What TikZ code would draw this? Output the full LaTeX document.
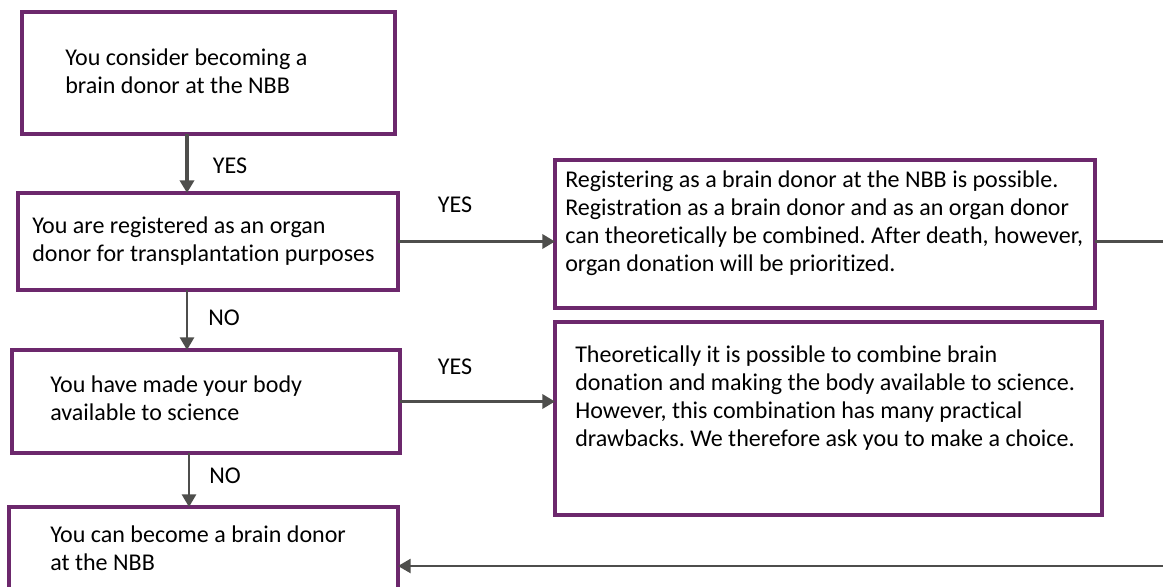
\documentclass[tikz,border=0pt]{standalone}
\usepackage{fontspec}
\setmainfont{Carlito}[Ligatures=NoCommon]
\usetikzlibrary{calc}
\usetikzlibrary{arrows.meta}

\definecolor{boxpurple}{RGB}{108,40,108}
\definecolor{arrowgray}{RGB}{78,78,76}

\begin{document}
\frenchspacing
\begin{tikzpicture}[x=0.025cm,y=-0.025cm,
  box/.style={draw=boxpurple,line width=2.6pt,inner sep=0pt,outer sep=0pt},
  txt/.style={font=\fontsize{17.1}{19.9}\selectfont,align=left,anchor=north west,inner sep=0pt},
  lbl/.style={font=\fontsize{17.1}{19.9}\selectfont,inner sep=0pt},
  arr/.style={draw=arrowgray,line width=1.9pt,-{Triangle[length=9pt,width=10pt]}}]

\clip (0,0) rectangle (1163,586);

\node[box,minimum width=373*0.025cm,minimum height=122*0.025cm] (consider) at (208.5,73) {};
\node[box,minimum width=380*0.025cm,minimum height=97*0.025cm] (organ) at (208,241.5) {};
\node[box,minimum width=540*0.025cm,minimum height=148*0.025cm] (combined) at (825,234) {};
\node[box,minimum width=388*0.025cm,minimum height=103*0.025cm] (body) at (206,401.5) {};
\node[box,minimum width=547*0.025cm,minimum height=193*0.025cm] (choice) at (828.5,418.5) {};
\node[box,minimum width=389*0.025cm,minimum height=113*0.025cm] (donor) at (203.5,563.5) {};

\node[txt] (consider text) at (65,45.4) {\strut You consider becoming a\\brain donor at the NBB};
\node[txt] (organ text) at (32,213.4) {\strut You are registered as an organ\\donor for transplantation purposes};
\node[txt] (combined text) at (565,167.4) {\strut Registering as a brain donor at the NBB is possible.\\Registration as a brain donor and as an organ donor\\can theoretically be combined. After death, however,\\organ donation will be prioritized.};
\node[txt] (body text) at (50,372.4) {\strut You have made your body\\available to science};
\node[txt] (choice text) at (575,342.4) {\strut Theoretically it is possible to combine brain\\donation and making the body available to science.\\However, this combination has many practical\\drawbacks. We therefore ask you to make a choice.};
\node[txt] (donor text) at (50,522.4) {\strut You can become a brain donor\\at the NBB};

\node[lbl] (yes1) at (230,166) {YES};
\node[lbl] (no1) at (224,318) {NO};
\node[lbl] (yes2) at (455,205) {YES};
\node[lbl] (yes3) at (455,367) {YES};
\node[lbl] (no2) at (225,476) {NO};

\coordinate (spine) at (187,0);
\coordinate (spine2) at (189,0);
\coordinate (rt) at (1190,241.5);
\coordinate (rb) at (1190,566);

\draw[arr,line width=2.8pt] (consider.south -| spine) -- (organ.north -| spine);
\draw[arr] (organ.south -| spine) -- (body.north -| spine);
\draw[arr] (body.south -| spine2) -- (donor.north -| spine2);
\draw[arr,line width=2.2pt] (organ.east) -- (organ.east -| combined.west);
\draw[arr,line width=2.2pt] (body.east) -- (body.east -| choice.west);
\draw[arr,line width=1.6pt] (combined.east |- organ.east) -- (rt) -- (rb) -- (donor.east |- rb);

\end{tikzpicture}
\end{document}
